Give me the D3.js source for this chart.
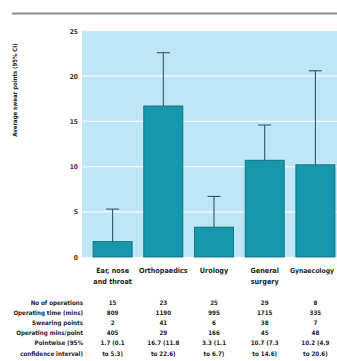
<!DOCTYPE html>
<html>
<head>
<meta charset="utf-8">
<script src="https://cdn.jsdelivr.net/npm/d3@7"></script>
<style>
  html, body { margin: 0; padding: 0; background: #fff; }
  svg { display: block; }
  text { font-family: "DejaVu Sans Condensed", "Liberation Sans Narrow", "Arial Narrow", sans-serif; font-stretch: condensed; fill: #1e1e1e; }
</style>
</head>
<body>
<svg id="chart" width="337" height="361"></svg>
<script>
// Swearing in the operating theatre, by specialty
const categoryLines = [["Ear, nose", "and throat"], ["Orthopaedics"], ["Urology"], ["General", "surgery"], ["Gynaecology"]];
const operations    = [15, 23, 25, 29, 8];
const minutes       = [809, 1190, 995, 1715, 335];
const swearPoints   = [2, 41, 6, 38, 7];
const minsPerPoint  = [405, 29, 166, 45, 48];
const rate          = [1.7, 16.7, 3.3, 10.7, 10.2];
const ciLow         = [0.1, 11.8, 1.1, 7.3, 4.9];
const ciHigh        = [5.3, 22.6, 6.7, 14.6, 20.6];
const yTicks        = [0, 5, 10, 15, 20, 25];
const rowLabels     = ["No of operations", "Operating time (mins)", "Swearing points",
                       "Operating mins/point", "Pointwise (95%", "confidence interval)"];

const svg = d3.select("#chart");
const idx = d3.range(categoryLines.length);

const x = d3.scaleBand().domain(idx).range([87, 341]).paddingInner(0.23).paddingOuter(0.12);
const y = d3.scaleLinear().domain([0, 25]).range([257, 31]);

// top rule
svg.append("line").attr("x1", 12).attr("x2", 337).attr("y1", 13.5).attr("y2", 13.5)
  .attr("stroke", "#8d8d8d").attr("stroke-width", 2);

// plot background
svg.append("rect").attr("x", 82).attr("y", y(25)).attr("width", 337 - 82).attr("height", y(0) - y(25))
  .attr("fill", "#bfe6f7");

// gridlines
svg.append("g").selectAll("line").data(yTicks.filter(d => d > 0 && d < 25)).join("line")
  .attr("x1", 82).attr("x2", 337).attr("y1", d => y(d)).attr("y2", d => y(d))
  .attr("stroke", "#ffffff").attr("stroke-opacity", 0.85).attr("stroke-width", 1.2);

// y axis
const yAxis = svg.append("g").attr("transform", "translate(78,0)")
  .call(d3.axisLeft(y).tickValues(yTicks).tickSize(0).tickPadding(0));
yAxis.select(".domain").remove();
yAxis.selectAll("text").style("font-size", "6.6px").style("font-weight", "bold").style("fill", "#333")
  .style("font-family", "\"DejaVu Sans Condensed\", sans-serif");

// y axis title
svg.append("text").attr("transform", `translate(17,${(27 + 153) / 2}) rotate(-90)`)
  .attr("text-anchor", "middle").style("font-size", "6px").style("font-weight", "600")
  .text("Average swear points (95% CI)");

// bars
svg.append("g").selectAll("rect").data(idx).join("rect")
  .attr("x", i => x(i)).attr("width", x.bandwidth())
  .attr("y", i => y(rate[i])).attr("height", i => y(0) - y(rate[i]))
  .attr("fill", "#1697ab").attr("stroke", "#0e6f7e").attr("stroke-width", 0.9);

// upper confidence whiskers
const err = svg.append("g").attr("stroke", "#2d5868").attr("stroke-width", 1.1);
err.selectAll("line.stem").data(idx).join("line").attr("class", "stem")
  .attr("x1", i => x(i) + x.bandwidth() / 2).attr("x2", i => x(i) + x.bandwidth() / 2)
  .attr("y1", i => y(rate[i])).attr("y2", i => y(ciHigh[i]));
err.selectAll("line.cap").data(idx).join("line").attr("class", "cap")
  .attr("x1", i => x(i) + x.bandwidth() / 2 - 6.5).attr("x2", i => x(i) + x.bandwidth() / 2 + 6.5)
  .attr("y1", i => y(ciHigh[i])).attr("y2", i => y(ciHigh[i]));

// category labels (the last one is pinned to the right edge so it stays in frame)
const cx = i => x(i) + x.bandwidth() / 2;
const last = categoryLines.length - 1;
idx.forEach(i => {
  categoryLines[i].forEach((line, k) => {
    svg.append("text")
      .attr("x", i === last ? 334 : cx(i))
      .attr("y", 272.5 + k * 11.5)
      .attr("text-anchor", i === last ? "end" : "middle")
      .style("font-size", i === last ? "6.8px" : "7.2px").style("font-weight", "600").text(line);
  });
});

// table beneath the chart
const rows = [
  operations.map(String),
  minutes.map(String),
  swearPoints.map(String),
  minsPerPoint.map(String),
  rate.map((r, i) => `${r} (${ciLow[i]}`),
  ciHigh.map(h => `to ${h})`)
];
const rowY = k => 304.5 + k * 10.2;

svg.append("g").selectAll("text").data(rowLabels).join("text")
  .attr("x", 83).attr("y", (d, k) => rowY(k)).attr("text-anchor", "end")
  .style("font-size", "6.2px").style("font-weight", "600").text(d => d);

rows.forEach((vals, k) => {
  svg.append("g").selectAll("text").data(vals).join("text")
    .attr("x", (d, i) => cx(i)).attr("y", rowY(k)).attr("text-anchor", "middle")
    .style("font-size", "6.2px").style("font-weight", "600").text(d => d);
});
</script>
</body>
</html>
